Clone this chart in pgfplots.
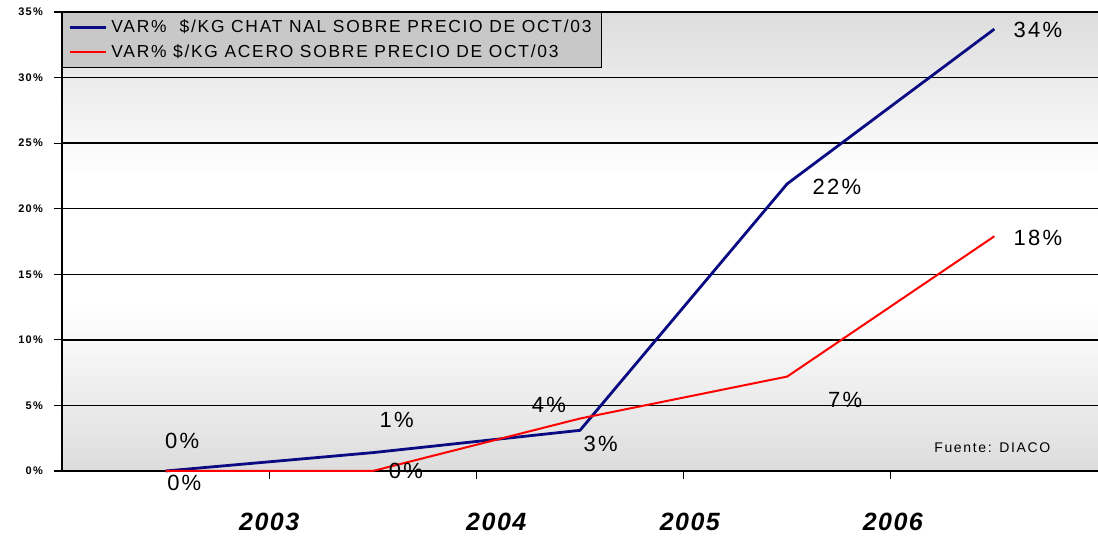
\documentclass[border=0pt]{standalone}
\usepackage{pgfplots}
\pgfplotsset{compat=1.18}
\usepackage{fontspec}
\setmainfont{Liberation Sans}
\definecolor{chatblue}{RGB}{10,10,130}
\definecolor{acerored}{RGB}{255,0,0}
\definecolor{bandgray}{RGB}{200,200,200}
% grey at 0-5% and 30-35%, white at 15-20%
\pgfdeclareverticalshading{bgshade}{100bp}{color(0bp)=(bandgray); color(14.3bp)=(bandgray);
  color(42.9bp)=(white); color(57.1bp)=(white); color(85.7bp)=(bandgray); color(100bp)=(bandgray)}
\begin{document}
\begin{tikzpicture}
\begin{axis}[
    name=ax,
    scale only axis,
    width=518pt, height=229.5pt,
    xmin=-0.5, xmax=4.5,
    ymin=0, ymax=35,
    axis x line*=bottom,
    axis y line*=left,
    axis line style={black, line width=1pt},
    xtick={0.5,1.5,2.5,3.5},
    xticklabels={},
    xtick style={black, line width=0.6pt},
    tick align=outside,
    major tick length=4pt,
    ytick={0,5,...,35},
    ymajorgrids,
    major grid style={black, line width=0.7pt},
    /pgf/number format/assume math mode=true,
    yticklabel={\pgfmathprintnumber{\tick}\%},
    yticklabel style={font=\bfseries\fontsize{5.5}{6}\selectfont\addfontfeature{LetterSpace=12}, xshift=-2pt},
    ytick style={black, line width=0.6pt},
    axis background/.style={shade, shading=bgshade},
    clip=false,
    legend style={at={(0,1)}, anchor=north west, fill=bandgray, draw=black,
        line width=0.6pt, font=\fontsize{8.7}{10}\selectfont\addfontfeature{LetterSpace=10},
        inner xsep=3pt, inner ysep=1.5pt, row sep=0.5pt},
    legend cell align=left,
    legend image code/.code={\draw[#1] (0pt,0pt) -- (18pt,0pt);},
]
\addplot[chatblue, line width=1.4pt] coordinates {
    (0,0) (1,1.4) (2,3.1) (3,21.9) (4,33.7)
};
\addplot[acerored, line width=1pt] coordinates {
    (0,0) (1,0) (2,4.0) (3,7.2) (4,17.9)
};
\legend{VAR\%\ \ \$/KG CHAT NAL SOBRE PRECIO DE OCT/03, VAR\% \$/KG ACERO SOBRE PRECIO DE OCT/03}

\begin{scope}[every node/.style={font=\fontsize{11}{13}\selectfont\addfontfeature{LetterSpace=10}}]
\node at (axis cs:0.08,2.3) {0\%};
\node at (axis cs:0.09,-0.9) {0\%};
\node at (axis cs:1.115,3.9) {1\%};
\node at (axis cs:1.16,0) {0\%};
\node at (axis cs:1.85,5.0) {4\%};
\node at (axis cs:2.1,2.1) {3\%};
\node at (axis cs:3.24,21.7) {22\%};
\node at (axis cs:3.28,5.4) {7\%};
\node at (axis cs:4.21,33.6) {34\%};
\node at (axis cs:4.21,17.8) {18\%};
\end{scope}
\node[font=\fontsize{7}{8}\selectfont\addfontfeature{LetterSpace=12}] at (axis cs:3.99,1.75) {Fuente: DIACO};

\begin{scope}[every node/.style={font=\bfseries\itshape\fontsize{12.5}{14}\selectfont\addfontfeature{LetterSpace=6}}]
\node at (axis cs:0.5,-3.9) {2003};
\node at (axis cs:1.596,-3.9) {2004};
\node at (axis cs:2.53,-3.9) {2005};
\node at (axis cs:3.51,-3.9) {2006};
\end{scope}
\end{axis}
\pgfresetboundingbox
\path ([shift={(-31pt,-33.5pt)}]ax.south west) rectangle ([shift={(0pt,6pt)}]ax.north east);
\end{tikzpicture}
\end{document}
